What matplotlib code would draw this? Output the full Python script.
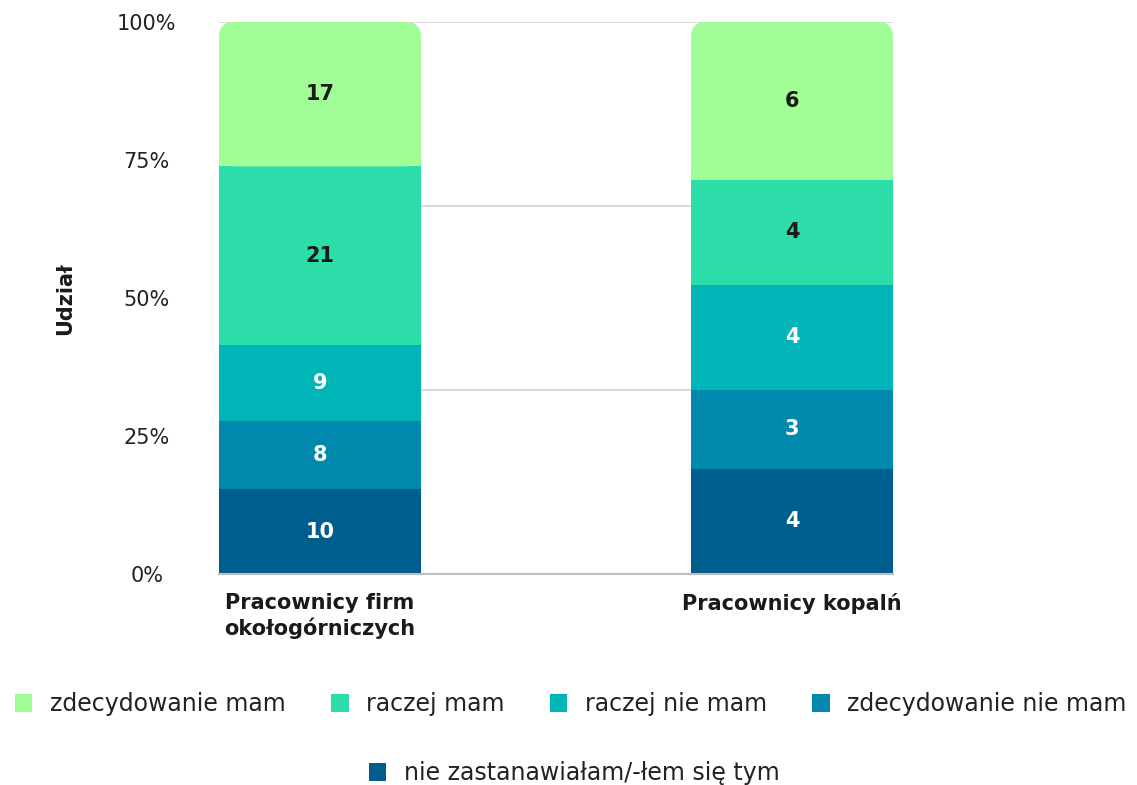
import numpy as np
import matplotlib.pyplot as plt
from matplotlib.patches import FancyBboxPatch, Rectangle, Patch

# Dane: liczba odpowiedzi w każdej grupie
grupy = ["Pracownicy firm\nokołogórniczych", "Pracownicy kopalń"]
odpowiedzi = ["nie zastanawiałam/-łem się tym", "zdecydowanie nie mam",
              "raczej nie mam", "raczej mam", "zdecydowanie mam"]
nie_zastanawialem = [10, 4]
zdecydowanie_nie = [8, 3]
raczej_nie = [9, 4]
raczej_tak = [21, 4]
zdecydowanie_tak = [17, 6]
kolory = ["#005e8f", "#0089ad", "#00b5b7", "#2cdda9", "#a1fd96"]
kolory_tekstu = ["white", "white", "white", "#1a1a1a", "#1a1a1a"]

serie = np.array([nie_zastanawialem, zdecydowanie_nie, raczej_nie,
                  raczej_tak, zdecydowanie_tak], dtype=float)
udzial = serie / serie.sum(axis=0) * 100

plt.rcParams['font.family'] = ['DejaVu Sans']

fig = plt.figure(figsize=(11.37, 7.85), dpi=100)
ax = fig.add_axes([0.1926, 0.2688, 0.5928, 0.7032])

x = np.arange(len(grupy))
szer = 0.428
ax.set_xlim(-szer / 2, len(grupy) - 1 + szer / 2)
ax.set_ylim(0, 100)

# Linie siatki co 1/3
for yy in [100 / 3, 200 / 3, 100]:
    ax.axhline(yy, color="#d9d9d9", lw=1.5, zorder=0)

dol = np.zeros(len(grupy))
for i, (wart, kol) in enumerate(zip(udzial, kolory)):
    if i < len(udzial) - 1:
        ax.bar(x, wart, szer, bottom=dol, color=kol, zorder=2, linewidth=0)
    else:
        # górny segment z zaokrąglonymi górnymi rogami
        for xi, h, b in zip(x, wart, dol):
            ax.add_patch(FancyBboxPatch((xi - szer / 2, b), szer, h,
                                        boxstyle="round,pad=0,rounding_size=0.032",
                                        mutation_aspect=85.5, fc=kol, ec="none",
                                        zorder=2))
            ax.add_patch(Rectangle((xi - szer / 2, b), szer, h / 2,
                                   fc=kol, ec="none", zorder=2))
    for xi, h, b, n in zip(x, wart, dol, serie[i]):
        ax.text(xi, b + h / 2, f"{int(n)}", ha="center", va="center",
                fontsize=15, fontweight="bold", color=kolory_tekstu[i], zorder=3)
    dol += wart

ax.set_yticks([0, 25, 50, 75, 100])
ax.set_yticklabels(["0%", "25%", "50%", "75%", "100%"], ha="center")
ax.tick_params(axis="y", length=0, pad=52, labelsize=15, labelcolor="#222222")
ax.set_xticks(x)
ax.set_xticklabels(grupy, fontweight="bold", va="top")
ax.tick_params(axis="x", length=0, pad=14, labelsize=15, labelcolor="#1a1a1a")
for lab in ax.get_xticklabels():
    lab.set_linespacing(1.25)

for s in ["top", "right", "left"]:
    ax.spines[s].set_visible(False)
ax.spines["bottom"].set_color("#bfbfbf")
ax.spines["bottom"].set_linewidth(1.5)
ax.spines["bottom"].set_zorder(3)

fig.text(0.057, 0.62, "Udział", rotation=90, ha="center", va="center",
         fontsize=15, fontweight="bold", color="#1a1a1a")

uchwyty = [Patch(facecolor=k, edgecolor="none") for k in kolory]
kolejnosc = [4, 3, 2, 1]
styl_legendy = dict(frameon=False, fontsize=17, handlelength=0.75,
                    handleheight=0.75, handletextpad=0.75, labelcolor="#222222")
fig.legend([uchwyty[i] for i in kolejnosc], [odpowiedzi[i] for i in kolejnosc],
           loc="center", bbox_to_anchor=(0.502, 0.103), ncol=4,
           columnspacing=1.9, **styl_legendy)
fig.legend([uchwyty[0]], [odpowiedzi[0]], loc="center",
           bbox_to_anchor=(0.505, 0.015), **styl_legendy)

fig.savefig("out.png", dpi=100)
